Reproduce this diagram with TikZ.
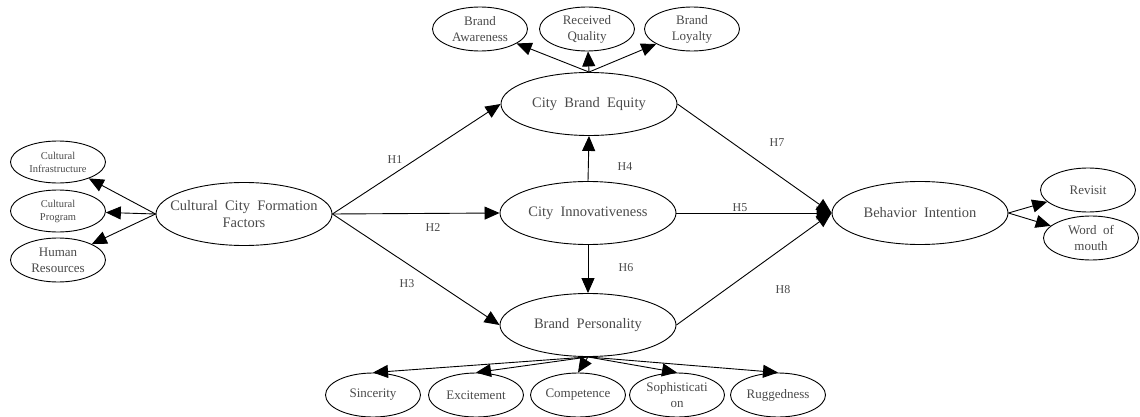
\documentclass[tikz,border=0pt]{standalone}
\usepackage{fontspec}
\setmainfont{Liberation Serif}
\usetikzlibrary{shapes.geometric,arrows.meta}
\definecolor{txt}{HTML}{4A4A4A}
\tikzset{
  ell/.style={ellipse,draw=black,line width=0.9pt,inner sep=0pt},
  big/.style={ell,minimum width=176pt,minimum height=63pt,
    label={[text=txt,align=center,inner sep=0pt,font=\fontsize{14.5}{17}\selectfont]center:#1}},
  small/.style={ell,minimum width=95pt,minimum height=44pt,
    label={[text=txt,align=center,inner sep=0pt,font=\fontsize{13}{16}\selectfont]center:#1}},
  tiny/.style={ell,minimum width=95pt,minimum height=42pt,
    label={[text=txt,align=center,inner sep=0pt,font=\fontsize{10.5}{13}\selectfont]center:#1}},
  arr/.style={line width=0.9pt,-{Triangle[length=15pt,width=13pt]}},
  hl/.style={text=txt,font=\fontsize{12}{14}\selectfont},
}
\begin{document}
\begin{tikzpicture}[x=1pt,y=-1pt]
\useasboundingbox (0,0) rectangle (1140,417);
% main nodes
\node[big={Cultural\ \ City\ \ Formation\\Factors}] (ccff) at (244,214) {};
\node[big={City\ \ Brand\ \ Equity}] (cbe) at (589,104) {};
\node[big={City\ \ Innovativeness}] (ci) at (588,213) {};
\node[big={Brand\ \ Personality}] (bp) at (588,325) {};
\node[big={Behavior\ \ Intention}] (bi) at (920,213) {};
% left
\node[tiny={Cultural\\Infrastructure}] (cinf) at (58,162) {};
\node[tiny={Cultural\\Program}] (cprog) at (58,211) {};
\node[small={Human\\Resources}] (hr) at (58,260) {};
% top
\node[small={Brand\\Awareness}] (aw) at (480,29) {};
\node[small={Received\\Quality}] (rq) at (587,29) {};
\node[small={Brand\\Loyalty}] (bl) at (692,29) {};
% right
\node[small={Revisit}] (rev) at (1088,190) {};
\node[small={Word\ \ of\\mouth}] (wom) at (1091,238) {};
% bottom
\node[small={Sincerity}] (sin) at (373,395) {};
\node[small={Excitement}] (exc) at (476,395) {};
\node[small={Competence}] (com) at (578,395) {};
\node[small={Sophisticati\\on}] (sop) at (677,395) {};
\node[small={Ruggedness}] (rug) at (778,395) {};
% connectors
\draw[arr] (ccff.west) -- (cinf);
\draw[arr] (ccff.west) -- (cprog);
\draw[arr] (ccff.west) -- (hr);
\draw[arr] (cbe.north) -- (aw);
\draw[arr] (cbe.north) -- (rq);
\draw[arr] (cbe.north) -- (bl);
\draw[arr] (ccff.east) -- (cbe.west);
\draw[arr] (ccff.east) -- (ci.west);
\draw[arr] (ccff.east) -- (bp.west);
\draw[arr] (ci.north) -- (cbe.south);
\draw[arr] (ci.south) -- (bp.north);
\draw[arr] (ci.east) -- (bi.west);
\draw[arr] (cbe.east) -- (bi.west);
\draw[arr] (bp.east) -- (bi.west);
\draw[arr] (bi.east) -- (rev);
\draw[arr] (bi.east) -- (wom);
\draw[arr] (bp.south) -- (sin.north);
\draw[arr] (bp.south) -- (exc.north);
\draw[arr] (bp.south) -- (com.north);
\draw[arr] (bp.south) -- (sop.north);
\draw[arr] (bp.south) -- (rug.north);
% labels
\node[hl] (h1) at (395,160) {H1};
\node[hl] (h2) at (433,228) {H2};
\node[hl] (h3) at (407,284) {H3};
\node[hl] (h4) at (625,167) {H4};
\node[hl] (h5) at (740,208) {H5};
\node[hl] (h6) at (626,268) {H6};
\node[hl] (h7) at (777,143) {H7};
\node[hl] (h8) at (783,290) {H8};
\end{tikzpicture}
\end{document}
